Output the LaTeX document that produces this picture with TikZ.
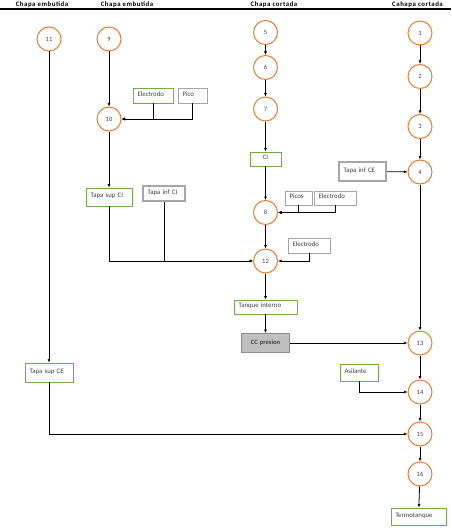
\documentclass[tikz,border=0pt]{standalone}
\usepackage{fontspec}
\setmainfont{Carlito}
\newfontfamily\headfont[LetterSpace=8]{Carlito}
\usepackage{tikz}
\usetikzlibrary{arrows.meta}
\definecolor{stageorange}{RGB}{237,125,49}
\definecolor{partgreen}{RGB}{112,173,71}
\definecolor{supplygray}{RGB}{166,166,166}
\definecolor{testgray}{RGB}{191,191,191}
\definecolor{inkgray}{RGB}{64,64,64}
\tikzset{
  stage/.style={circle,draw=stageorange,line width=1pt,minimum size=24pt,
    inner sep=0pt,text=inkgray,font=\fontsize{6.5}{7}\selectfont},
  part/.style={draw=partgreen,line width=0.9pt,align=left,inner xsep=4.5pt,
    inner ysep=0pt,text height=5pt,text depth=4pt,text=inkgray,
    font=\fontsize{6.8}{8}\selectfont},
  supply/.style={part,draw=supplygray,line width=0.9pt},
  heavy/.style={part,draw=supplygray,line width=2pt},
  test/.style={part,draw=supplygray!85!black,fill=testgray,line width=0.9pt,
    align=center,text depth=3pt,font=\bfseries\fontsize{6.5}{8}\selectfont},
  flow/.style={-{Latex[length=3.5pt,width=3pt]},line width=0.8pt,draw=black},
  colhead/.style={anchor=base,font=\headfont\bfseries\fontsize{6.8}{8}\selectfont}
}
\begin{document}
\begin{tikzpicture}[x=1pt,y=-1pt]
  \useasboundingbox (0,0) rectangle (451,532);
  % column heads
  \node[colhead] (headA) at (42,7) {Chapa embutida};
  \node[colhead] (headB) at (127,7) {Chapa embutida};
  \node[colhead] (headC) at (274,7) {Chapa cortada};
  \node[colhead] (headD) at (417.5,7) {Cahapa cortada};
  \draw[line width=1.3pt] (0,9) -- (451,9);
  % stages
  \node[stage] (s1) at (420,33) {1};
  \node[stage] (s2) at (420,76.5) {2};
  \node[stage] (s3) at (420,126.5) {3};
  \node[stage] (s4) at (420,172) {4};
  \node[stage] (s5) at (265.5,32.5) {5};
  \node[stage] (s6) at (265.5,67.5) {6};
  \node[stage] (s7) at (265.5,109) {7};
  \node[stage] (s8) at (265.5,212.5) {8};
  \node[stage] (s9) at (109,39) {9};
  \node[stage] (s10) at (109,119) {10};
  \node[stage] (s11) at (49,39) {11};
  \node[stage] (s12) at (265.5,261) {12};
  \node[stage] (s13) at (420,343) {13};
  \node[stage] (s14) at (420,392) {14};
  \node[stage] (s15) at (420,434) {15};
  \node[stage] (s16) at (420,474) {16};
  % parts and inputs
  \node[part,text width=31pt,minimum height=15pt] (elecA) at (153,95.5) {Electrodo};
  \node[supply,text width=20pt,minimum height=15pt] (pico) at (192.5,95.5) {Pico};
  \node[part,text width=37pt,minimum height=18pt] (tapasupci) at (109,197) {Tapa sup CI};
  \node[heavy,text width=33pt,minimum height=15pt] (tapainfci) at (164,193.5) {Tapa inf CI};
  \node[part,align=center,text width=22pt,minimum height=14pt] (ci) at (265.5,159) {CI};
  \node[heavy,text width=38pt,minimum height=19pt] (tapainfce) at (362.5,171.5) {Tapa inf CE};
  \node[supply,text width=18pt,minimum height=14pt] (picos) at (298.5,198) {Picos};
  \node[supply,text width=33pt,minimum height=14pt] (elecB) at (335,198) {Electrodo};
  \node[supply,text width=33pt,minimum height=15pt] (elecC) at (309,245.5) {Electrodo};
  \node[part,text width=54pt,minimum height=14pt] (tanque) at (265.5,307) {Tanque interno};
  \node[test,text width=39pt,minimum height=19pt] (ccpresion) at (265.5,343) {CC presion};
  \node[part,text width=29pt,minimum height=17pt] (asilante) at (359,372.5) {Asilante};
  \node[part,text width=39pt,minimum height=19pt] (tapasupce) at (49,372.5) {Tapa sup CE};
  \node[part,text width=46pt,minimum height=17pt] (termo) at (418.5,516.5) {Termotanque};
  % left columns
  \draw[flow] (s11) -- (tapasupce);
  \draw[flow] (tapasupce) |- (s15);
  \draw[flow] (s9) -- (s10);
  \draw[flow] (elecA) |- (s10);
  \draw[flow] (pico) |- (s10);
  \draw[flow] (s10) -- (tapasupci);
  \draw[flow] (tapasupci) |- (s12);
  \draw[flow] (tapainfci) |- (s12);
  % middle column
  \draw[flow] (s5) -- (s6);
  \draw[flow] (s6) -- (s7);
  \draw[flow] (s7) -- (ci);
  \draw[flow] (ci) -- (s8);
  \draw[flow] (picos) |- (s8);
  \draw[flow] (elecB) |- (s8);
  \draw[flow] (s8) -- (s12);
  \draw[flow] (elecC) |- (s12);
  \draw[flow] (s12) -- (tanque);
  \draw[flow] (tanque) -- (ccpresion);
  \draw[flow] (ccpresion) -- (s13);
  % right column
  \draw[flow] (s1) -- (s2);
  \draw[flow] (s2) -- (s3);
  \draw[flow] (s3) -- (s4);
  \draw[flow] (tapainfce) -- (s4);
  \draw[flow] (s4) -- (s13);
  \draw[flow] (s13) -- (s14);
  \draw[flow] (asilante) |- (s14);
  \draw[flow] (s14) -- (s15);
  \draw[flow] (s15) -- (s16);
  \draw[flow] (s16) -- (termo);
\end{tikzpicture}
\end{document}
